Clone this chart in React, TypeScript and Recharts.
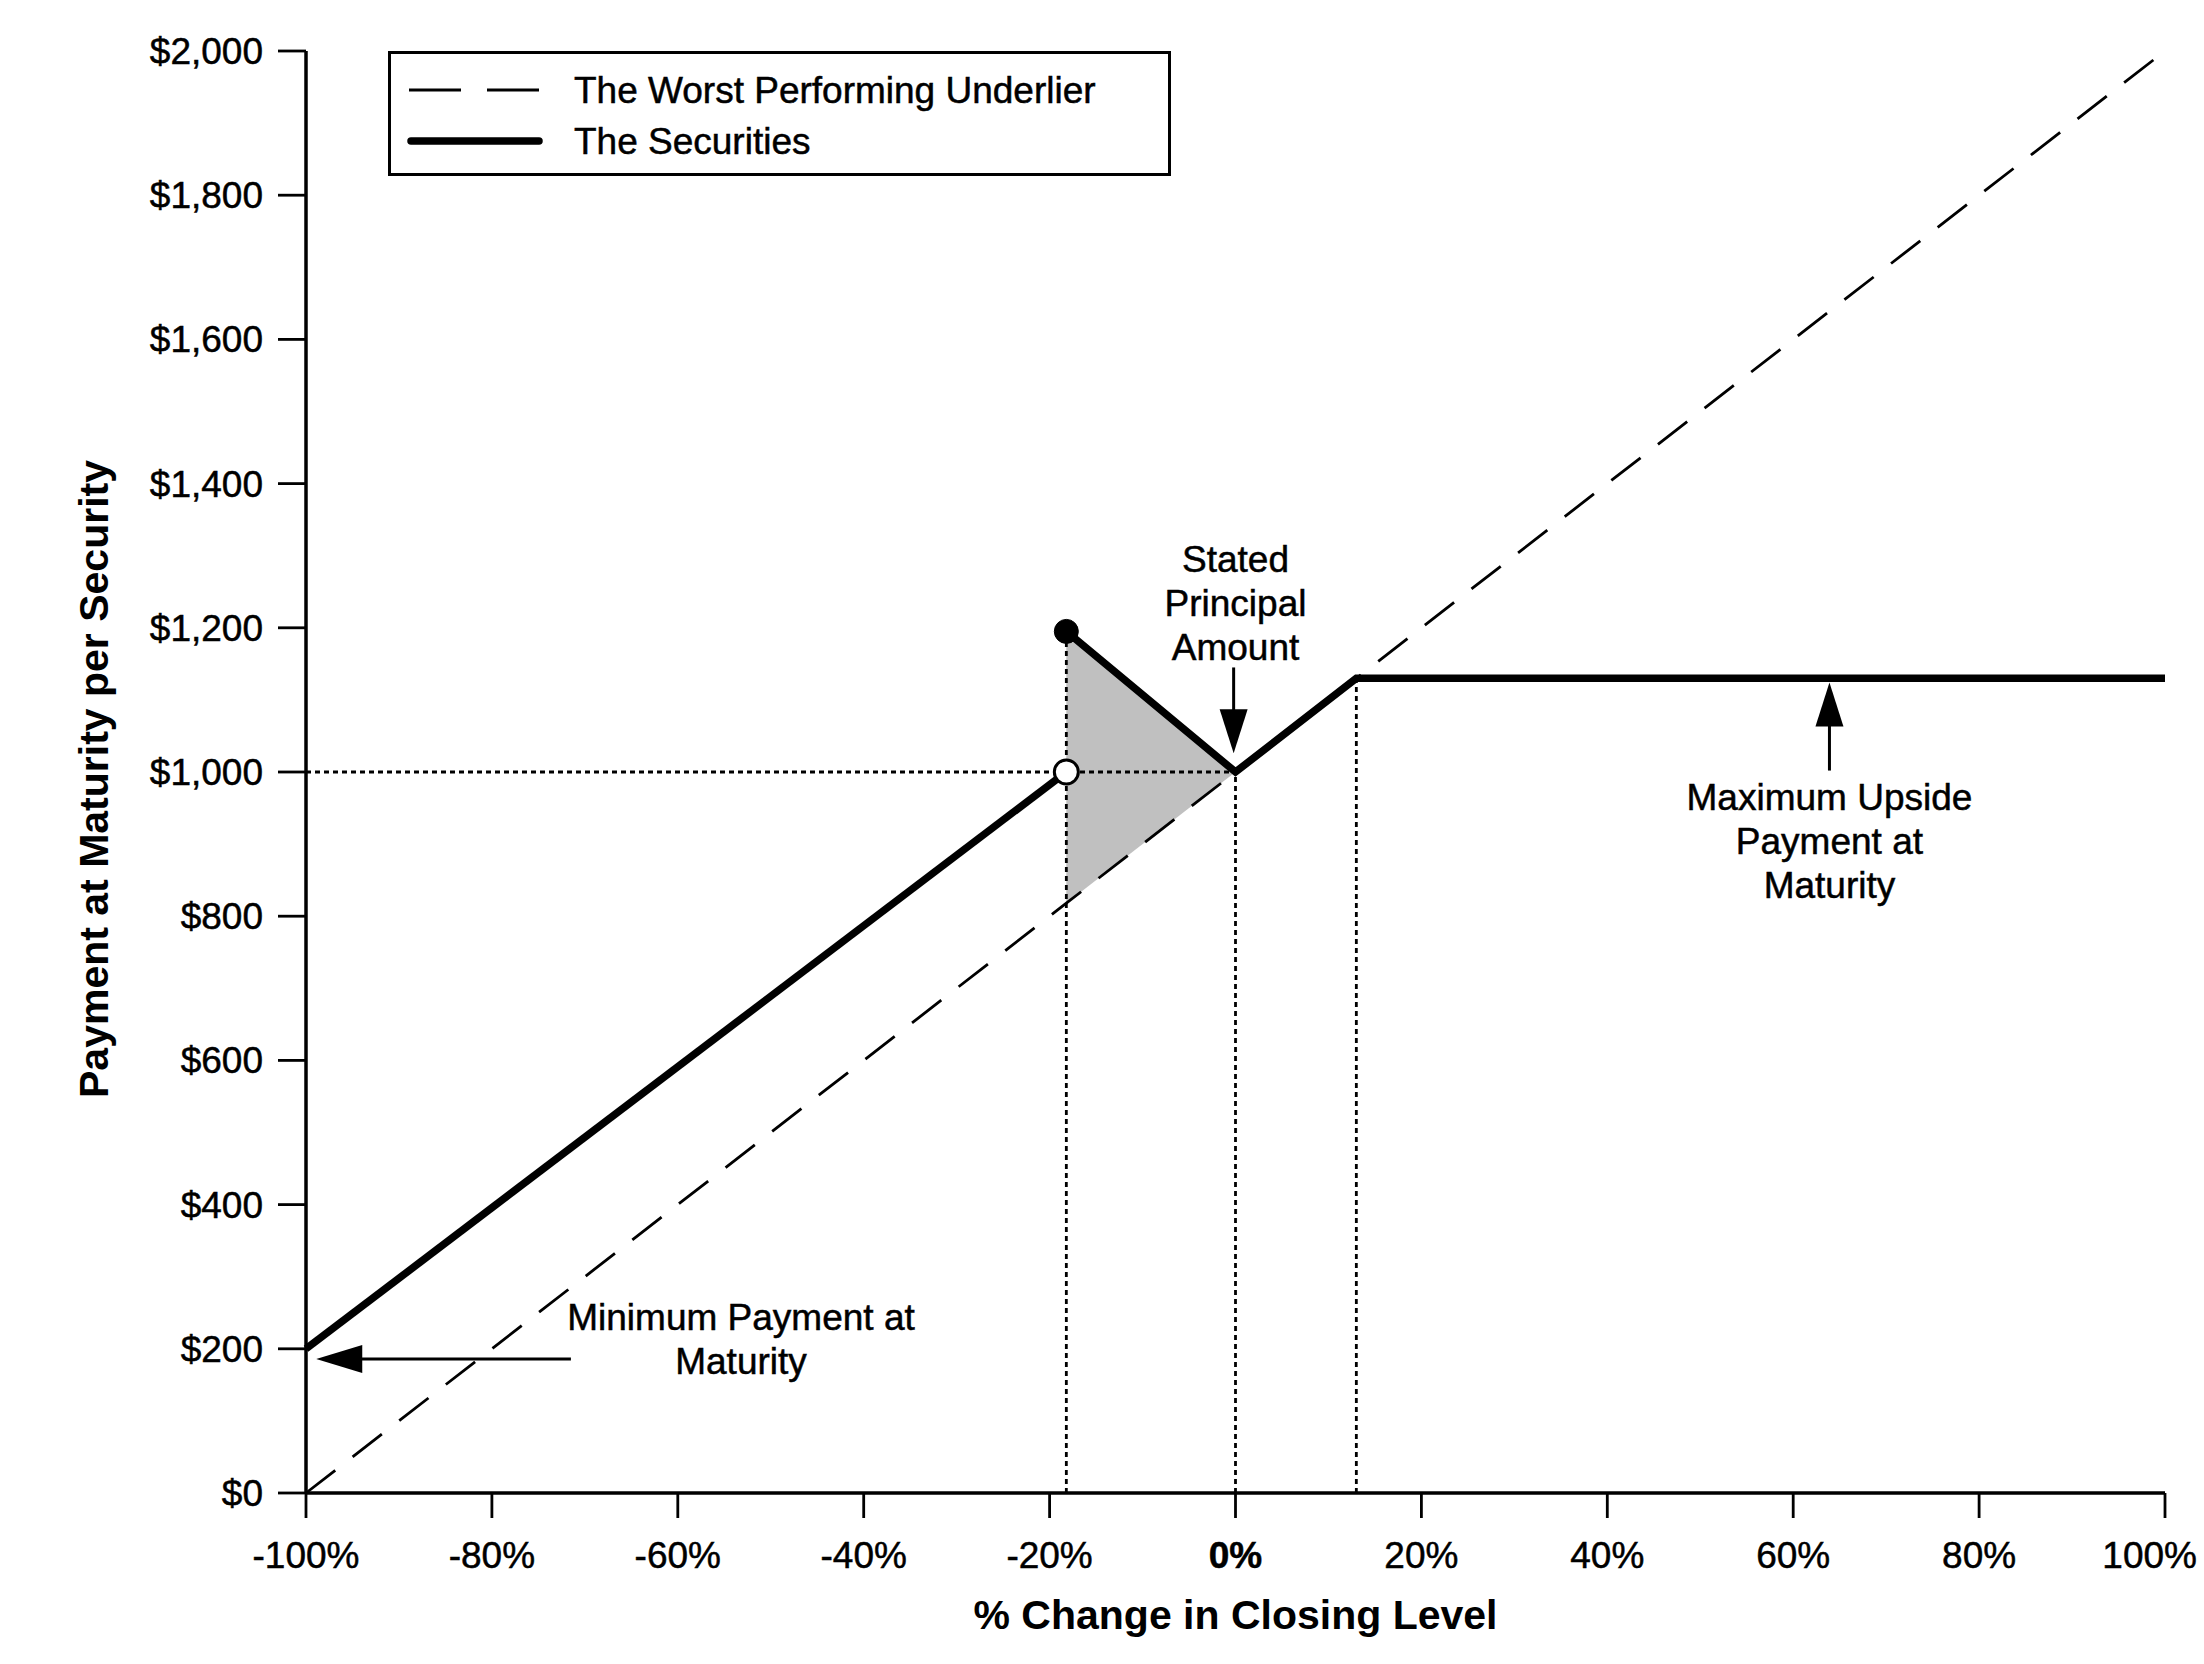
import {
  ComposedChart,
  Line,
  Area,
  XAxis,
  YAxis,
  ReferenceLine,
  ReferenceDot,
  Legend,
} from 'recharts';

const FONT = '"Liberation Sans", Arial, sans-serif';

// payoff breakpoints (% change in closing level)
const xValues = [-100, -18.2, 0, 13, 100];
const underlierValues = [0, 818, 1000, 1130, 2000];
const belowBarrierValues = [200, 1000, null, null, null];
const aboveBarrierValues = [null, 1195, 1000, 1130, 1130];
const shadeLow = [null, 818, 1000, null, null];
const shadeHigh = [null, 1195, 1000, null, null];

const xTicks = [-100, -80, -60, -40, -20, 0, 20, 40, 60, 80, 100];
const yTicks = [0, 200, 400, 600, 800, 1000, 1200, 1400, 1600, 1800, 2000];

const barrierX = -18.2;
const capX = 13;
const principal = 1000;
const barrierTop = 1195;
const capValue = 1130;

const statedLines = ['Stated', 'Principal', 'Amount'];
const maxLines = ['Maximum Upside', 'Payment at', 'Maturity'];
const minLines = ['Minimum Payment at', 'Maturity'];

const data = xValues.map((x, i) => ({
  x,
  under: underlierValues[i],
  low: belowBarrierValues[i],
  high: aboveBarrierValues[i],
  band: shadeLow[i] === null ? null : [shadeLow[i], shadeHigh[i]],
}));

const fmtDollar = (v: number) => '$' + v.toLocaleString('en-US');

// slight stroke to mimic the heavier rendering of the original
const heavy = { stroke: '#000', strokeWidth: 0.5 };

const YTick = ({ x, y, payload }: any) => (
  <text x={x} y={y} dy={13} textAnchor="end" fontFamily={FONT} fontSize={37} fill="#000" {...heavy}>
    {fmtDollar(payload.value)}
  </text>
);

const XTick = ({ x, y, payload }: any) => {
  const last = payload.value === 100;
  return (
    <text
      x={last ? x + 32 : x}
      y={y}
      dy={26}
      textAnchor={last ? 'end' : 'middle'}
      fontFamily={FONT}
      fontSize={37}
      fontWeight={payload.value === 0 ? 'bold' : 'normal'}
      fill="#000"
      {...heavy}
    >
      {payload.value + '%'}
    </text>
  );
};

const multiLine = (lines: string[]) => ({ cx, cy }: any) => (
  <text x={cx} y={cy + 13} textAnchor="middle" fontFamily={FONT} fontSize={37} fill="#000" {...heavy}>
    {lines.map((t, i) => (
      <tspan key={i} x={cx} dy={i === 0 ? 0 : 44}>
        {t}
      </tspan>
    ))}
  </text>
);

const headDown = ({ cx, cy }: any) => (
  <polygon points={`${cx},${cy} ${cx - 14},${cy - 44} ${cx + 14},${cy - 44}`} fill="#000" />
);
const headUp = ({ cx, cy }: any) => (
  <polygon points={`${cx},${cy} ${cx - 14},${cy + 44} ${cx + 14},${cy + 44}`} fill="#000" />
);
const headLeft = ({ cx, cy }: any) => (
  <polygon points={`${cx},${cy} ${cx + 46},${cy - 14} ${cx + 46},${cy + 14}`} fill="#000" />
);

const renderLegend = () => (
  <div
    style={{
      width: 783,
      height: 125,
      boxSizing: 'border-box',
      border: '3px solid #000',
      background: '#fff',
      position: 'relative',
    }}
  >
    <svg width={780} height={120} style={{ position: 'absolute', left: 0, top: 0 }}>
      <line x1={18} y1={36} x2={150} y2={36} stroke="#000" strokeWidth={2.8} strokeDasharray="52 26" />
      <line x1={20} y1={87} x2={148} y2={87} stroke="#000" strokeWidth={7.5} strokeLinecap="round" />
      <text x={183} y={49} fontFamily={FONT} fontSize={37} fill="#000" {...heavy}>
        The Worst Performing Underlier
      </text>
      <text x={183} y={100} fontFamily={FONT} fontSize={37} fill="#000" {...heavy}>
        The Securities
      </text>
    </svg>
  </div>
);

export default function App() {
  return (
    <div style={{ position: 'absolute', left: 0, top: 0, background: '#fff' }}>
      <ComposedChart
        width={2204}
        height={1664}
        data={data}
        margin={{ top: 51, right: 39, left: 0, bottom: 0 }}
      >
        <XAxis
          type="number"
          dataKey="x"
          domain={[-100, 100]}
          ticks={xTicks}
          height={171}
          tickSize={25}
          tickMargin={24}
          tick={<XTick />}
          axisLine={{ stroke: '#000', strokeWidth: 3.5 }}
          tickLine={{ stroke: '#000', strokeWidth: 2.8 }}
          label={{
            content: ({ viewBox }: any) => (
              <text
                x={viewBox.x + viewBox.width / 2}
                y={viewBox.y + 136}
                textAnchor="middle"
                fontFamily={FONT}
                fontSize={41}
                fontWeight="bold"
                fill="#000"
              >
                % Change in Closing Level
              </text>
            ),
          }}
        />
        <YAxis
          type="number"
          domain={[0, 2000]}
          ticks={yTicks}
          width={306}
          tickSize={28}
          tickMargin={15}
          tick={<YTick />}
          axisLine={{ stroke: '#000', strokeWidth: 3.5 }}
          tickLine={{ stroke: '#000', strokeWidth: 2.8 }}
          label={{
            content: ({ viewBox }: any) => {
              const cx = viewBox.x + 94;
              const cy = viewBox.y + viewBox.height / 2 + 7;
              return (
                <text
                  x={cx}
                  y={cy}
                  dy={14}
                  textAnchor="middle"
                  transform={`rotate(-90 ${cx} ${cy})`}
                  fontFamily={FONT}
                  fontSize={41}
                  fontWeight="bold"
                  fill="#000"
                >
                  Payment at Maturity per Security
                </text>
              );
            },
          }}
        />
        <Legend
          layout="vertical"
          verticalAlign="middle"
          align="center"
          content={renderLegend}
          wrapperStyle={{ left: 388, top: 51, width: 783, height: 125 }}
        />

        <Area
          type="linear"
          dataKey="band"
          fill="#c0c0c0"
          fillOpacity={1}
          stroke="none"
          connectNulls={false}
          isAnimationActive={false}
          legendType="none"
        />

        <ReferenceLine
          segment={[{ x: -100, y: principal }, { x: 0, y: principal }]}
          stroke="#000"
          strokeWidth={2.8}
          strokeDasharray="5 4"
        />
        <ReferenceLine
          segment={[{ x: barrierX, y: 0 }, { x: barrierX, y: barrierTop }]}
          stroke="#000"
          strokeWidth={2.8}
          strokeDasharray="5 4"
        />
        <ReferenceLine
          segment={[{ x: 0, y: 0 }, { x: 0, y: principal }]}
          stroke="#000"
          strokeWidth={2.8}
          strokeDasharray="5 4"
        />
        <ReferenceLine
          segment={[{ x: capX, y: 0 }, { x: capX, y: capValue }]}
          stroke="#000"
          strokeWidth={2.8}
          strokeDasharray="5 4"
        />

        <Line
          type="linear"
          dataKey="under"
          stroke="#000"
          strokeWidth={2.8}
          strokeDasharray="37 22"
          dot={false}
          isAnimationActive={false}
        />
        <Line
          type="linear"
          dataKey="low"
          stroke="#000"
          strokeWidth={7.5}
          dot={false}
          connectNulls={false}
          isAnimationActive={false}
        />
        <Line
          type="linear"
          dataKey="high"
          stroke="#000"
          strokeWidth={7.5}
          strokeLinejoin="miter"
          dot={false}
          connectNulls={false}
          isAnimationActive={false}
        />

        <ReferenceDot x={barrierX} y={barrierTop} r={12} fill="#000" stroke="#000" strokeWidth={1} />
        <ReferenceDot x={barrierX} y={principal} r={12} fill="#fff" stroke="#000" strokeWidth={3} />

        {/* Stated principal annotation */}
        <ReferenceDot x={0} y={1296} r={0} shape={multiLine(statedLines)} />
        <ReferenceLine
          segment={[{ x: -0.2, y: 1145 }, { x: -0.2, y: 1075 }]}
          stroke="#000"
          strokeWidth={3}
        />
        <ReferenceDot x={-0.2} y={1026} r={0} shape={headDown} />

        {/* Maximum upside annotation */}
        <ReferenceDot x={63.9} y={965} r={0} shape={multiLine(maxLines)} />
        <ReferenceLine segment={[{ x: 63.9, y: 1002 }, { x: 63.9, y: 1070 }]} stroke="#000" strokeWidth={3} />
        <ReferenceDot x={63.9} y={1124} r={0} shape={headUp} />

        {/* Minimum payment annotation */}
        <ReferenceDot x={-53.2} y={244} r={0} shape={multiLine(minLines)} />
        <ReferenceLine segment={[{ x: -71.5, y: 186 }, { x: -95, y: 186 }]} stroke="#000" strokeWidth={3} />
        <ReferenceDot x={-98.9} y={186} r={0} shape={headLeft} />
      </ComposedChart>
    </div>
  );
}
